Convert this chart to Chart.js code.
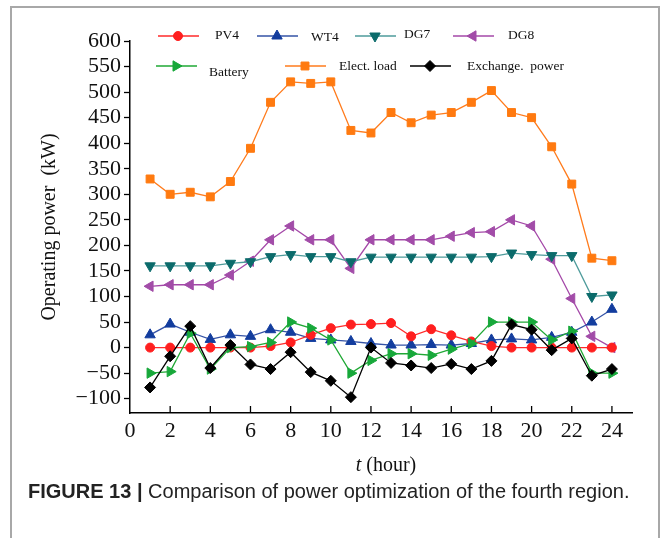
<!DOCTYPE html>
<html>
<head>
<meta charset="utf-8">
<script src="https://cdn.jsdelivr.net/npm/chart.js@4.4.0/dist/chart.umd.min.js"></script>
<style>
  html, body { margin: 0; padding: 0; background: #fff; }
  #wrap { position: relative; width: 664px; height: 538px; overflow: hidden; }
  #frame { position: absolute; left: 10px; top: 6px; width: 646px; height: 560px; border: 2px solid #a8a8a8; }
  #myChart { position: absolute; left: 0; top: 0; }
  #caption { position: absolute; left: 28px; top: 480px; font-family: "Liberation Sans", Arial, sans-serif; font-size: 20px; letter-spacing: 0; color: #222; white-space: nowrap; }
</style>
</head>
<body>
<div id="wrap">
  <div id="frame"></div>
  <canvas id="myChart" width="664" height="485"></canvas>
  <div id="caption"><b>FIGURE 13 |</b> Comparison of power optimization of the fourth region.</div>
</div>
<script>
// hours of the day
const hours = [1, 2, 3, 4, 5, 6, 7, 8, 9, 10, 11, 12, 13, 14, 15, 16, 17, 18, 19, 20, 21, 22, 23, 24]

// operating power (kW)
const pv4 = [0, 0, 0, 0, 0, 0, 3, 10, 25, 38, 45, 46, 48, 22, 36, 24, 12, 3, 0, 0, 0, 0, 0, 0]
const wt4 = [25, 46, 30, 16, 25, 22, 35, 30, 18, 15, 12, 8, 5, 5, 6, 5, 8, 15, 17, 15, 20, 30, 50, 75]
const dg7 = [160, 160, 160, 160, 165, 168, 178, 182, 178, 178, 168, 177, 177, 177, 177, 177, 177, 178, 185, 182, 180, 180, 100, 103]
const dg8 = [120, 123, 123, 123, 142, 169, 211, 238, 211, 211, 155, 211, 211, 211, 211, 218, 225, 227, 250, 238, 173, 96, 22, 0]
const battery = [-50, -47, 28, -42, 0, 2, 10, 50, 38, 15, -50, -25, -12, -12, -15, -3, 8, 50, 50, 50, 15, 32, -50, -50]
const electLoad = [330, 300, 304, 295, 325, 390, 480, 520, 517, 520, 425, 420, 460, 440, 455, 460, 480, 503, 460, 450, 393, 320, 175, 170]
const exchange = [-78, -17, 42, -40, 5, -33, -42, -9, -48, -65, -97, 0, -30, -35, -40, -32, -42, -26, 45, 35, -5, 18, -55, -42]

const xTicksMax = 25
const yMin = -128
const yMax = 600

const serif = '"Liberation Serif", "Times New Roman", serif'

function series(label, data, line, fill, style, rotation, radius, order) {
    return {
        label,
        data: data.map((v, i) => ({ x: hours[i], y: v })),
        borderColor: line,
        backgroundColor: fill,
        pointBackgroundColor: fill,
        pointBorderColor: fill,
        pointBorderWidth: 1,
        pointStyle: style,
        pointRotation: rotation,
        pointRadius: radius,
        borderWidth: 1.3,
        tension: 0,
        order
    }
}

const datasets = [
    series('PV4', pv4, '#ff2a2a', '#ff1f1f', 'circle', 0, 4.5, 2),
    series('WT4', wt4, '#3553a6', '#133d9e', 'triangle', 0, 6, 3),
    series('DG7', dg7, '#4e9b9b', '#0b6b6b', 'triangle', 180, 6, 4),
    series('DG8', dg8, '#a448a8', '#a24ca8', 'triangle', -90, 6, 5),
    series('Battery', battery, '#1fa834', '#17a83a', 'triangle', 90, 6, 1),
    series('Elect. load', electLoad, '#ff7b1c', '#ff7a10', 'rect', 0, 5.6, 6),
    series('Exchange.  power', exchange, '#000000', '#000000', 'rectRot', 0, 5.5, 0)
]

// legend spots drawn over the plot (two rows like the original)
const legendSpots = [
    { x: 158, y: 36, tx: 215, ty: 35 },
    { x: 257, y: 36, tx: 311, ty: 37 },
    { x: 355, y: 36, tx: 404, ty: 34 },
    { x: 453, y: 36, tx: 508, ty: 35 },
    { x: 156, y: 66, tx: 209, ty: 72 },
    { x: 285, y: 66, tx: 339, ty: 66 },
    { x: 410, y: 66, tx: 467, ty: 66 }
]

const twoRowLegend = {
    id: 'twoRowLegend',
    afterDraw(chart) {
        const ctx = chart.ctx
        ctx.save()
        chart.data.datasets.forEach((ds, i) => {
            const s = legendSpots[i]
            ctx.strokeStyle = ds.borderColor
            ctx.lineWidth = 1.5
            ctx.beginPath()
            ctx.moveTo(s.x, s.y)
            ctx.lineTo(s.x + 41, s.y)
            ctx.stroke()
            ctx.fillStyle = ds.pointBackgroundColor
            ctx.strokeStyle = ds.pointBorderColor
            ctx.lineWidth = 1
            Chart.helpers.drawPoint(ctx, {
                pointStyle: ds.pointStyle,
                rotation: ds.pointRotation,
                radius: ds.pointRadius,
                borderWidth: 1
            }, s.x + 20, s.y)
            ctx.fillStyle = '#111'
            ctx.font = '13.5px ' + serif
            ctx.textBaseline = 'middle'
            ctx.textAlign = 'left'
            ctx.fillText(ds.label, s.tx, s.ty)
        })
        ctx.restore()
    }
}

// x tick marks point into the plot; x title has an italic t
const xAxisExtras = {
    id: 'xAxisExtras',
    afterDraw(chart) {
        const ctx = chart.ctx
        const xs = chart.scales.x
        const area = chart.chartArea
        ctx.save()
        ctx.strokeStyle = '#000'
        ctx.lineWidth = 1.3
        xs.ticks.forEach(t => {
            const px = xs.getPixelForValue(t.value)
            if (t.value === 0) return
            ctx.beginPath()
            ctx.moveTo(px, area.bottom)
            ctx.lineTo(px, area.bottom - 7)
            ctx.stroke()
        })

        const italic = 'italic 20px ' + serif
        const normal = '20px ' + serif
        const rest = ' (hour)'
        ctx.font = italic
        const w1 = ctx.measureText('t').width
        ctx.font = normal
        const w2 = ctx.measureText(rest).width
        const x0 = (area.left + area.right) / 2 - (w1 + w2) / 2 + 5
        const y = area.bottom + 53
        ctx.fillStyle = '#111'
        ctx.textBaseline = 'middle'
        ctx.textAlign = 'left'
        ctx.font = italic
        ctx.fillText('t', x0, y)
        ctx.font = normal
        ctx.fillText(rest, x0 + w1, y)
        ctx.restore()
    }
}

const canvas = document.getElementById('myChart')

const config = {
    type: 'line',
    data: { datasets },
    options: {
        responsive: false,
        animation: false,
        layout: {
            padding: { top: 41, right: 32, bottom: 0, left: 0 }
        },
        plugins: {
            legend: { display: false },
            tooltip: { enabled: false }
        },
        scales: {
            x: {
                type: 'linear',
                min: 0,
                max: xTicksMax,
                ticks: {
                    stepSize: 2,
                    includeBounds: false,
                    autoSkip: false,
                    color: '#111',
                    padding: 5,
                    maxRotation: 0,
                    font: { family: serif, size: 22 }
                },
                grid: { display: false, drawTicks: false },
                border: { display: true, color: '#000', width: 1.5 },
                afterFit(scale) { scale.height = 72 }
            },
            y: {
                min: yMin,
                max: yMax,
                ticks: {
                    stepSize: 50,
                    includeBounds: false,
                    autoSkip: false,
                    color: '#111',
                    padding: 3,
                    font: { family: serif, size: 22, lineHeight: 1 },
                    callback: v => String(v).replace('-', '\u2212')
                },
                grid: { drawOnChartArea: false, drawTicks: true, tickLength: 6, tickColor: '#000', tickWidth: 1.3 },
                border: { display: true, color: '#000', width: 1.5 },
                title: {
                    display: true,
                    text: 'Operating power  (kW)',
                    color: '#111',
                    font: { family: serif, size: 20 },
                    padding: { top: 38, bottom: 0 }
                },
                afterFit(scale) { scale.width = 130 }
            }
        }
    },
    plugins: [twoRowLegend, xAxisExtras]
}

if (canvas) {
    new Chart(canvas, config)
}
</script>
</body>
</html>
